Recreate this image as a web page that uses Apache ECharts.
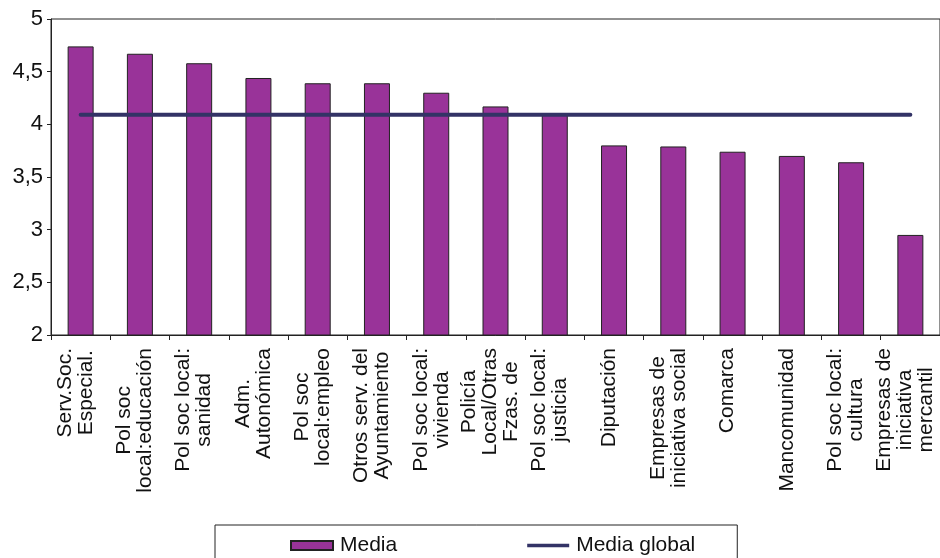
<!DOCTYPE html>
<html>
<head>
<meta charset="utf-8">
<script src="https://cdn.jsdelivr.net/npm/echarts@6/dist/echarts.min.js"></script>
<style>
html,body{margin:0;padding:0;background:#fff;}
#chart{width:940px;height:558px;}
</style>
</head>
<body>
<div id="chart"></div>
<script>
var categories = [
  "Serv.Soc.\nEspecial.",
  "Pol soc\nlocal:educación",
  "Pol soc local:\nsanidad",
  "Adm.\nAutonómica",
  "Pol soc\nlocal:empleo",
  "Otros serv. del\nAyuntamiento",
  "Pol soc local:\nvivienda",
  "Policía\nLocal/Otras\nFzas. de",
  "Pol soc local:\njusticia",
  "Diputación",
  "Empresas de\niniciativa social",
  "Comarca",
  "Mancomunidad",
  "Pol soc local:\ncultura",
  "Empresas de\niniciativa\nmercantil"
];
var mediaValues = [4.74, 4.67, 4.58, 4.44, 4.39, 4.39, 4.30, 4.17, 4.09, 3.80, 3.79, 3.74, 3.70, 3.64, 2.95];
var mediaGlobalValues = [4.09, 4.09, 4.09, 4.09, 4.09, 4.09, 4.09, 4.09, 4.09, 4.09, 4.09, 4.09, 4.09, 4.09, 4.09];
var seriesNames = ["Media", "Media global"];

var FONT = '"Liberation Sans", Arial, sans-serif';
var chart = echarts.init(document.getElementById('chart'), null, {renderer: 'canvas'});
chart.setOption({
  animation: false,
  backgroundColor: '#ffffff',
  textStyle: {fontFamily: FONT, color: '#111'},
  grid: {
    left: 51, top: 19, right: -8, bottom: 223,
    show: true, borderColor: '#222', borderWidth: 1, backgroundColor: 'transparent'
  },
  legend: {
    left: 215, top: 525,
    padding: [10, 42, 20, 75],
    borderColor: '#222', borderWidth: 1,
    itemWidth: 42, itemHeight: 9, itemGap: 130,
    textStyle: {fontFamily: FONT, fontSize: 21, color: '#111', padding: [0, 0, 0, 2]},
    data: [
      {name: seriesNames[0], icon: 'rect'},
      {name: seriesNames[1], icon: 'path://M0,0L45,0L45,4L0,4Z', itemStyle: {color: '#333366', borderWidth: 0}}
    ]
  },
  xAxis: {
    type: 'category',
    data: categories,
    boundaryGap: true,
    axisLine: {lineStyle: {color: '#222', width: 1}},
    axisTick: {show: true, length: 5, lineStyle: {color: '#222'}},
    axisLabel: {
      interval: 0, rotate: 90, margin: 13,
      fontFamily: FONT, fontSize: 21, color: '#111',
      padding: [0, 0, 10, 0],
      formatter: function (v) {
        return v.split('\n').map(function (l) { return '{c|' + l + '}'; }).join('\n');
      },
      rich: {c: {align: 'center', fontFamily: FONT, fontSize: 21, lineHeight: 21, color: '#111'}}
    },
    splitLine: {show: false}
  },
  yAxis: {
    type: 'value',
    min: 2, max: 5, interval: 0.5,
    axisLine: {show: true, lineStyle: {color: '#222', width: 1}},
    axisTick: {show: true, length: 4, lineStyle: {color: '#222'}},
    axisLabel: {
      margin: 8, fontFamily: FONT, fontSize: 22, color: '#111',
      formatter: function (v) { return String(v).replace('.', ','); }
    },
    splitLine: {show: false}
  },
  series: [
    {
      name: seriesNames[0],
      type: 'bar',
      data: mediaValues,
      barWidth: 26,
      itemStyle: {color: '#993399', borderColor: '#222', borderWidth: 1},
      z: 2
    },
    {
      name: seriesNames[1],
      type: 'line',
      data: mediaGlobalValues,
      symbol: 'none',
      showSymbol: false,
      lineStyle: {color: '#333366', width: 4, cap: 'round'},
      itemStyle: {color: '#333366'},
      z: 3
    }
  ]
});
</script>
</body>
</html>
